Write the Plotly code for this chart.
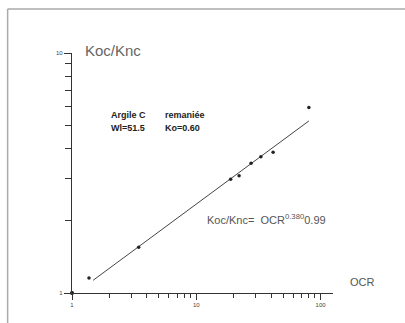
import plotly.graph_objects as go

# Data
ocr = [1.37, 3.44, 18.9, 22.1, 27.6, 33.1, 41.5, 80.5]
koc_knc = [1.155, 1.55, 2.98, 3.08, 3.47, 3.70, 3.86, 5.93]

fit_x = [1.48, 80.5]
fit_y = [1.13, 5.21]

origin_x = [1]
origin_y = [1]

x_tickvals = [1, 10, 100]
x_ticktext = ["1", "10", "100"]
x_minor = [2, 3, 4, 5, 6, 7, 8, 9, 20, 30, 40, 50, 60, 70, 80, 90]
y_tickvals = [1, 10]
y_ticktext = ["1", "10"]
y_minor = [2, 3, 4, 5, 6, 7, 8, 9]

fig = go.Figure()
fig.add_trace(go.Scatter(x=fit_x, y=fit_y, mode="lines",
                         line=dict(color="#444", width=1), showlegend=False))
fig.add_trace(go.Scatter(x=ocr, y=koc_knc, mode="markers",
                         marker=dict(color="#222", size=3.5), showlegend=False))
fig.add_trace(go.Scatter(x=origin_x, y=origin_y, mode="markers",
                         marker=dict(color="#111", size=4), showlegend=False,
                         cliponaxis=False))

font = "Liberation Sans, Arial, sans-serif"
fig.update_layout(
    width=405, height=323,
    margin=dict(l=72, r=72, t=53, b=30),
    plot_bgcolor="white", paper_bgcolor="white",
    font=dict(family=font, color="#333"),
    xaxis=dict(type="log", range=[0, 2.1], showgrid=False, zeroline=False,
               showline=True, linecolor="#333", linewidth=1,
               tickvals=x_tickvals, ticktext=x_ticktext,
               ticks="outside", ticklen=6, tickcolor="#333",
               tickfont=dict(size=6, color="#444"),
               minor=dict(tickvals=x_minor, ticks="outside", ticklen=4,
                          tickcolor="#333", showgrid=False)),
    yaxis=dict(type="log", range=[0, 1], showgrid=False, zeroline=False,
               showline=True, linecolor="#333", linewidth=1.2,
               tickvals=y_tickvals, ticktext=y_ticktext,
               ticks="outside", ticklen=7, tickcolor="#333",
               tickfont=dict(size=6, color="#444"),
               minor=dict(tickvals=y_minor, ticks="outside", ticklen=6,
                          tickcolor="#333", showgrid=False)),
)

def ann(text, x, y, size, color="#555", anchor="left"):
    fig.add_annotation(text=text, x=x, y=y, xref="paper", yref="paper",
                       xanchor=anchor, yanchor="middle", showarrow=False,
                       font=dict(size=size, color=color, family=font))

ann("Koc/Knc", 0.041, 1.01, 15, "#666")
ann("<b>Argile C</b>", 0.141, 0.742, 9, "#222")
ann("<b>remaniée</b>", 0.348, 0.742, 9, "#222")
ann("<b>Wl=51.5</b>", 0.141, 0.688, 9, "#222")
ann("<b>Ko=0.60</b>", 0.348, 0.688, 9, "#222")
ann("Koc/Knc=  OCR<sup>0.380</sup>0.99", 0.511, 0.308, 11, "#555")
ann("OCR", 1.057, 0.046, 11, "#555")

# scanned page frame
fig.add_shape(type="line", xref="paper", yref="paper",
              x0=-0.2466, x1=1.3, y0=1.183, y1=1.183,
              line=dict(color="#aaa", width=1.5))
fig.add_shape(type="line", xref="paper", yref="paper",
              x0=-0.2466, x1=-0.2466, y0=1.183, y1=-0.15,
              line=dict(color="#aaa", width=1.5))

fig.write_html("out.html")
